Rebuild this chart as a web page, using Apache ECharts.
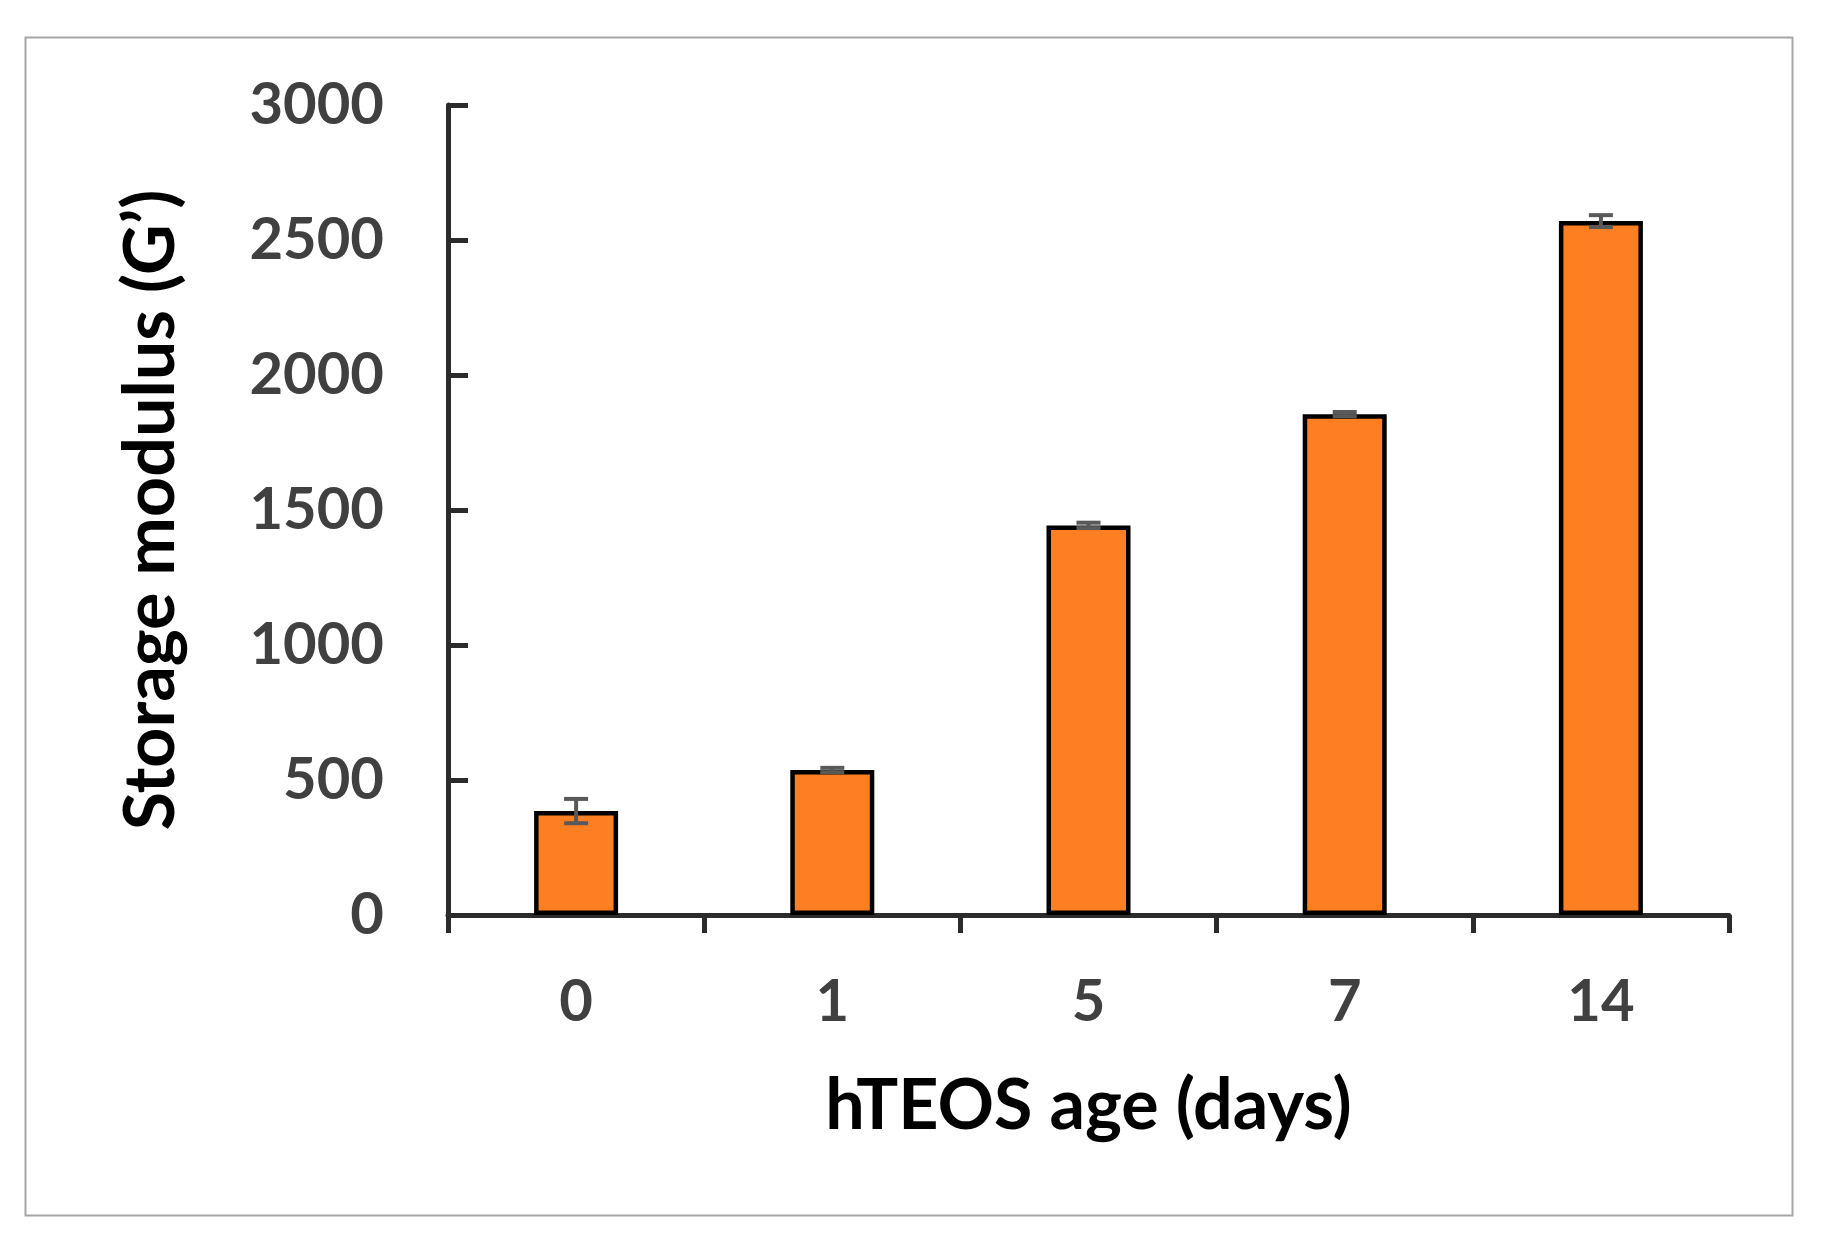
<!DOCTYPE html>
<html>
<head>
<meta charset="utf-8">
<script src="https://cdn.jsdelivr.net/npm/echarts@6/dist/echarts.min.js"></script>
<style>
html,body{margin:0;padding:0;background:#fff;}
#chart{width:1822px;height:1245px;}
</style>
</head>
<body>
<div id="chart"></div>
<script>
var categories = ['0', '1', '5', '7', '14'];
var values = [385, 537, 1443, 1855, 2570];
var errors = [45, 8, 10, 8, 22];
var yTicks = { min: 0, max: 3000, interval: 500 };

var chart = echarts.init(document.getElementById('chart'));
var errData = categories.map(function (c, i) { return [i, values[i] - errors[i], values[i] + errors[i]]; });

chart.setOption({
  animation: false,
  backgroundColor: '#ffffff',
  graphic: [{
    type: 'rect', left: 23, top: 35, z: -10,
    shape: { width: 1767, height: 1178 },
    style: { fill: 'none', stroke: '#a6a6a6', lineWidth: 2 }
  }],
  grid: { left: 448, right: 93, top: 105, bottom: 330, containLabel: false },
  xAxis: {
    type: 'category',
    data: categories,
    name: 'hTEOS age (days)',
    nameLocation: 'middle',
    nameGap: 156,
    nameTextStyle: { fontFamily: 'Lato', fontWeight: 'bold', fontSize: 70, color: '#000' },
    axisLine: { lineStyle: { color: '#2b2b2b', width: 5 } },
    axisTick: { show: true, inside: false, length: 18, lineStyle: { color: '#2b2b2b', width: 5 } },
    axisLabel: { margin: 58, fontFamily: 'Lato', fontWeight: 'bold', fontSize: 58, color: '#404040' }
  },
  yAxis: {
    type: 'value',
    min: yTicks.min, max: yTicks.max, interval: yTicks.interval,
    name: 'Storage modulus (G\u2019)',
    nameLocation: 'middle',
    nameGap: 262,
    nameRotate: 90,
    nameTextStyle: { fontFamily: 'Lato', fontWeight: 'bold', fontSize: 70, color: '#000' },
    axisLine: { show: true, lineStyle: { color: '#2b2b2b', width: 5 } },
    axisTick: { show: true, inside: true, length: 20, lineStyle: { color: '#2b2b2b', width: 5 } },
    splitLine: { show: false },
    axisLabel: {
      margin: 64, fontFamily: 'Lato', fontWeight: 'bold', fontSize: 58, color: '#404040',
      formatter: function (v) { return String(v); }
    }
  },
  series: [{
    type: 'bar',
    data: values,
    barWidth: 84,
    itemStyle: { color: '#fe7f22', borderColor: '#000', borderWidth: 4.5 }
  }, {
    type: 'custom',
    data: errData,
    z: 10,
    renderItem: function (params, api) {
      var x = api.value(0);
      var lo = api.coord([x, api.value(1)]);
      var hi = api.coord([x, api.value(2)]);
      var hw = 12;
      var st = { stroke: '#595959', lineWidth: 4 };
      return { type: 'group', children: [
        { type: 'line', shape: { x1: lo[0], y1: lo[1], x2: hi[0], y2: hi[1] }, style: st },
        { type: 'line', shape: { x1: lo[0] - hw, y1: lo[1], x2: lo[0] + hw, y2: lo[1] }, style: st },
        { type: 'line', shape: { x1: hi[0] - hw, y1: hi[1], x2: hi[0] + hw, y2: hi[1] }, style: st }
      ]};
    }
  }]
});
</script>
</body>
</html>
